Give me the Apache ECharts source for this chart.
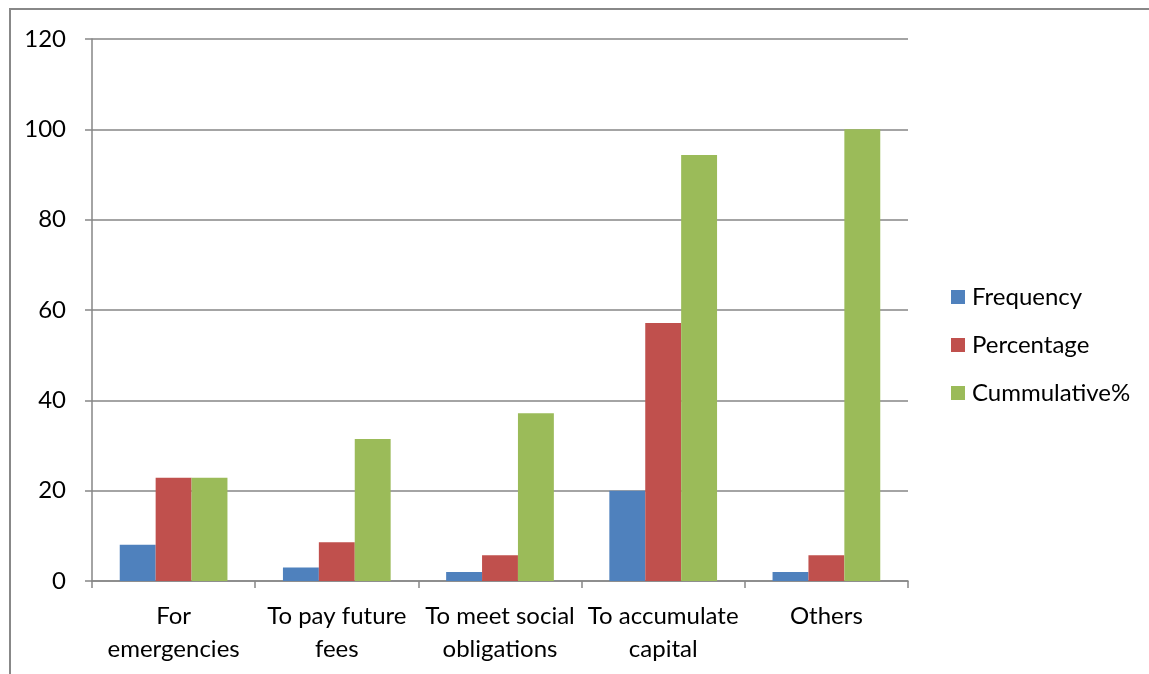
<!DOCTYPE html>
<html>
<head>
<meta charset="utf-8">
<script src="https://cdn.jsdelivr.net/npm/echarts@6/dist/echarts.min.js"></script>
<style>
  html, body { margin: 0; padding: 0; background: #fff; }
  #main { width: 1149px; height: 674px; }
</style>
</head>
<body>
<div id="main"></div>
<script>
var categories = ['For\nemergencies', 'To pay future\nfees', 'To meet social\nobligations', 'To accumulate\ncapital', 'Others'];
var frequency = [8, 3, 2, 20, 2];
var percentage = [22.86, 8.57, 5.71, 57.14, 5.71];
var cumulative = [22.86, 31.43, 37.14, 94.29, 100];
var yTicks = [0, 20, 40, 60, 80, 100, 120];

var chartDom = document.getElementById('main');
var myChart = echarts.init(chartDom);
var fontFamily = 'Lato, "Open Sans", sans-serif';
var lineColor = '#868686';

var option = {
  animation: false,
  textStyle: { fontFamily: fontFamily },
  graphic: [{
    type: 'rect',
    shape: { x: 10, y: 9, width: 1300, height: 800 },
    style: { fill: 'none', stroke: '#888', lineWidth: 2 },
    silent: true
  }],
  grid: { left: 92, right: 241, top: 39, bottom: 93, containLabel: false },
  legend: {
    orient: 'vertical',
    left: 951,
    top: 285,
    padding: 0,
    itemWidth: 14,
    itemHeight: 14,
    itemGap: 24,
    icon: 'rect',
    textStyle: { fontSize: 24, color: '#000', fontFamily: fontFamily, padding: [0, 0, 0, 2] },
    data: ['Frequency', 'Percentage', 'Cummulative%']
  },
  xAxis: {
    type: 'category',
    data: categories,
    axisLine: { lineStyle: { color: lineColor, width: 1.5 } },
    axisTick: { show: true, length: 7, alignWithLabel: false, lineStyle: { color: lineColor, width: 1.5 } },
    axisLabel: { color: '#000', fontSize: 24, lineHeight: 33, margin: 19, interval: 0 }
  },
  yAxis: {
    type: 'value',
    min: yTicks[0],
    max: yTicks[yTicks.length - 1],
    interval: 20,
    axisLine: { show: true, lineStyle: { color: lineColor, width: 1.5 } },
    axisTick: { show: true, length: 7, lineStyle: { color: lineColor, width: 1.5 } },
    splitLine: { lineStyle: { color: lineColor, width: 1.5 } },
    axisLabel: { color: '#000', fontSize: 24, margin: 26 }
  },
  series: [
    { name: 'Frequency', type: 'bar', data: frequency, barGap: '0%', barCategoryGap: '34%', itemStyle: { color: '#4F81BD' } },
    { name: 'Percentage', type: 'bar', data: percentage, barGap: '0%', barCategoryGap: '34%', itemStyle: { color: '#C0504D' } },
    { name: 'Cummulative%', type: 'bar', data: cumulative, barGap: '0%', barCategoryGap: '34%', itemStyle: { color: '#9BBB59' } }
  ]
};

option && myChart.setOption(option);
</script>
</body>
</html>
